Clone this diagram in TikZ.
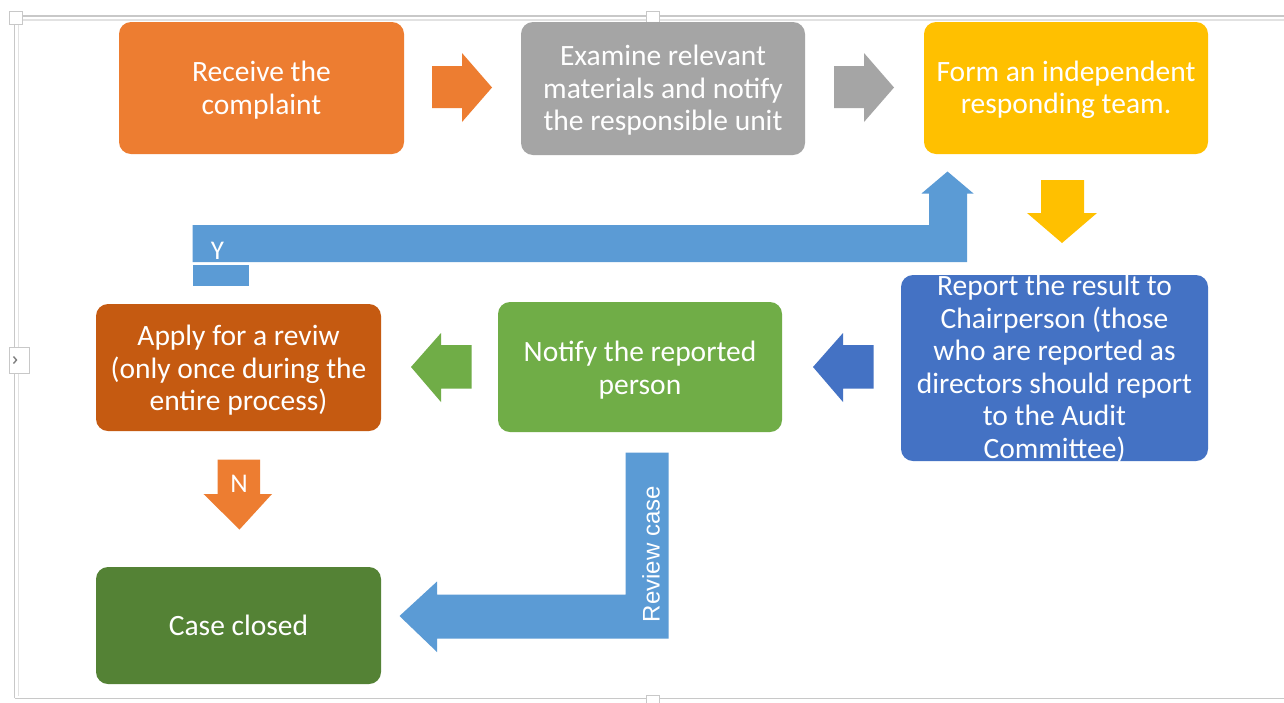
\documentclass[tikz,border=0pt]{standalone}
\usepackage{fontspec}
\setmainfont{Carlito}
\newfontfamily\arialfont{Liberation Sans}
\definecolor{cOrange}{HTML}{ED7D31}
\definecolor{cGray}{HTML}{A5A5A5}
\definecolor{cGold}{HTML}{FFC000}
\definecolor{cBlue}{HTML}{4472C4}
\definecolor{cGreen}{HTML}{70AD47}
\definecolor{cRust}{HTML}{C55A11}
\definecolor{cDarkGreen}{HTML}{548235}
\definecolor{cSky}{HTML}{5B9BD5}
\definecolor{frameOuter}{HTML}{C8C8C8}
\definecolor{frameInner}{HTML}{E2E2E2}
\begin{document}
\begin{tikzpicture}[x=1pt,y=-1pt,
  stepbox/.style={rounded corners=12pt, inner sep=0pt},
  steptext/.style={text=white, align=center, font=\fontsize{29.5}{32.5}\selectfont},
  blockarrow/.style={draw=none},
  handle/.style={draw=frameOuter, fill=white, line width=1pt, inner sep=0pt},
  arrowlabel/.style={text=white, inner sep=0pt, font=\fontsize{27}{30}\selectfont}
]
\useasboundingbox (0,0) rectangle (1284,702);
\fill[white] (0,0) rectangle (1284,702);

% selection frame around the chart
\draw[frameOuter, line width=1.2pt] (14.5,16) -- (1290,16);
\draw[frameInner, line width=1.2pt] (18.5,20) -- (1290,20);
\draw[frameOuter, line width=1.2pt] (14.5,16) -- (14.5,698);
\draw[frameInner, line width=1.2pt] (18.5,20) -- (18.5,696);
\draw[frameOuter, line width=1.2pt] (14.5,698.5) -- (1290,698.5);
\node[handle, minimum width=13pt, minimum height=13pt] (hTL) at (16,18) {};
\node[handle, minimum width=13pt, minimum height=11pt] (hTC) at (653,17) {};
\node[handle, minimum width=13pt, minimum height=11pt] (hBC) at (653,701) {};
\node[handle, minimum width=20pt, minimum height=26pt] (hLM) at (19,360) {};
\draw[gray, line width=1.4pt] (13.5,356.5) -- (16.5,360) -- (13.5,363.5);

% process steps (box, then its caption)
\node[stepbox, fill=cOrange, minimum width=285pt, minimum height=132pt] (receive) at (261.5,88) {};
\node[steptext] (receiveText) at (261.5,90) {Receive the\\complaint};
\node[stepbox, fill=cGray, minimum width=284pt, minimum height=133pt] (examine) at (663,88.5) {};
\node[steptext] (examineText) at (663,90.5) {Examine relevant\\materials and notify\\the responsible unit};
\node[stepbox, fill=cGold, minimum width=284pt, minimum height=132pt] (team) at (1066,88) {};
\node[steptext] (teamText) at (1066,90) {Form an independent\\responding team.};
\node[stepbox, fill=cBlue, minimum width=307pt, minimum height=186pt] (report) at (1054.5,368) {};
\node[steptext] (reportText) at (1054.5,369) {Report the result to\\Chairperson (those\\who are reported as\\directors should report\\to the Audit\\Committee)};
\node[stepbox, fill=cGreen, minimum width=284pt, minimum height=130pt] (notify) at (640,367) {};
\node[steptext] (notifyText) at (640,370) {Notify the reported\\person};
\node[stepbox, fill=cRust, minimum width=285pt, minimum height=127pt] (review) at (238.5,367.5) {};
\node[steptext] (reviewText) at (238.5,370.5) {Apply for a reviw\\(only once during the\\entire process)};
\node[stepbox, fill=cDarkGreen, minimum width=285pt, minimum height=117pt] (closed) at (238.5,625.5) {};
\node[steptext] (closedText) at (238.5,625) {Case closed};

% straight block arrows between steps
\fill[blockarrow, cOrange] (432,66) -- (462,66) -- (462,53) -- (492,87.5) -- (462,122) -- (462,108) -- (432,108) -- cycle;
\fill[blockarrow, cGray] (834,66) -- (864,66) -- (864,53) -- (894,87.5) -- (864,122) -- (864,108) -- (834,108) -- cycle;
\fill[blockarrow, cGold] (1041,180) -- (1084,180) -- (1084,213) -- (1097,213) -- (1062,243) -- (1027,213) -- (1041,213) -- cycle;
\fill[blockarrow, cBlue] (873.5,345) -- (843,345) -- (843,333) -- (813,367) -- (843,402) -- (843,388.5) -- (873.5,388.5) -- cycle;
\fill[blockarrow, cGreen] (471.5,345) -- (441,345) -- (441,333) -- (411,367) -- (441,402) -- (441,388.5) -- (471.5,388.5) -- cycle;
\fill[blockarrow, cOrange] (217.5,459.5) -- (260,459.5) -- (260,494) -- (272,494) -- (239.5,529.5) -- (203.5,494) -- (217.5,494) -- cycle;
\node[arrowlabel] (nlabel) at (239,484) {N};

% "Y" return path back up to the team
\fill[blockarrow, cSky] (192.5,225) -- (929,225) -- (929,193.5) -- (921.5,193.5) -- (947.5,171.5) -- (973.5,193.5) -- (967,193.5) -- (967,262) -- (192.5,262) -- cycle;
\fill[blockarrow, cSky] (192.5,264.5) rectangle (248.5,286);
\node[arrowlabel] (ylabel) at (217.5,251) {Y};

% "Review case" path down to the closed case
\fill[blockarrow, cSky] (668.5,452.5) -- (668.5,638.5) -- (437,638.5) -- (437,652) -- (399.5,616) -- (437,581.5) -- (437,594.5) -- (625.5,594.5) -- (625.5,452.5) -- cycle;
\node[text=white, inner sep=0pt, rotate=90, font=\arialfont\fontsize{24}{27}\selectfont] (rclabel) at (651,554) {Review case};
\end{tikzpicture}
\end{document}
